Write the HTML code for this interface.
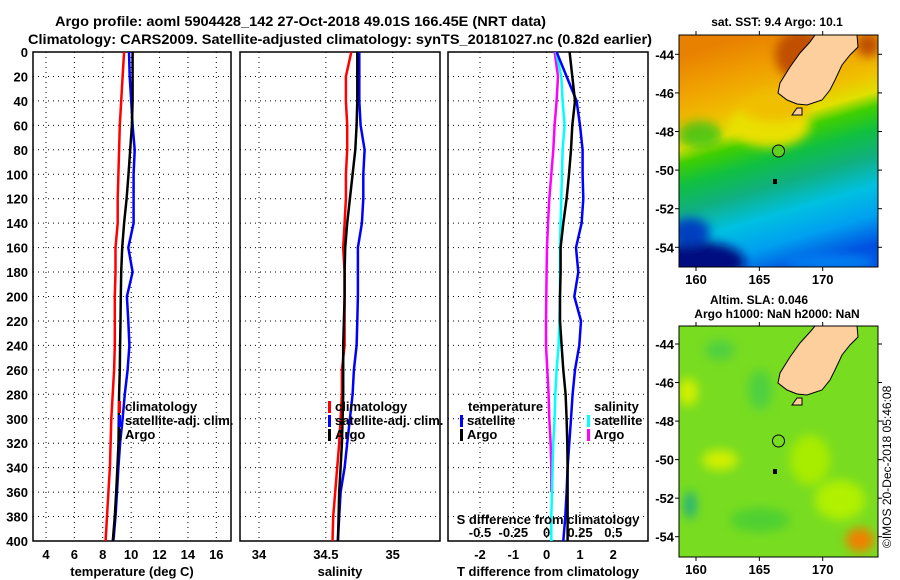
<!DOCTYPE html>
<html><head><meta charset="utf-8"><style>
body{margin:0;background:#fff;}
svg{display:block;font-family:"Liberation Sans",sans-serif;font-weight:bold;}
</style></head><body>
<svg id="chart" width="900" height="580" viewBox="0 0 900 580" xmlns="http://www.w3.org/2000/svg">
<defs>
<linearGradient id="sstGrad" x1="0.35" y1="0" x2="0.6" y2="1">
<stop offset="0" stop-color="#e88000"/><stop offset="0.15" stop-color="#f0a000"/>
<stop offset="0.3" stop-color="#f0c000"/><stop offset="0.38" stop-color="#e0e000"/>
<stop offset="0.44" stop-color="#40d000"/><stop offset="0.53" stop-color="#10c040"/>
<stop offset="0.64" stop-color="#10b080"/><stop offset="0.76" stop-color="#00c0e0"/>
<stop offset="0.88" stop-color="#00a0f0"/><stop offset="1" stop-color="#0050e0"/></linearGradient>
<clipPath id="clip1"><rect x="679" y="35" width="199" height="232"/></clipPath>
<clipPath id="clip2"><rect x="679" y="326" width="199" height="231"/></clipPath>
<filter id="blur"><feGaussianBlur stdDeviation="5"/></filter>
</defs>
<text x="55" y="26" font-size="14" textLength="491" lengthAdjust="spacingAndGlyphs">Argo profile: aoml 5904428_142 27-Oct-2018 49.01S 166.45E (NRT data)</text>
<text x="28" y="44" font-size="14" textLength="624" lengthAdjust="spacingAndGlyphs">Climatology: CARS2009. Satellite-adjusted climatology: synTS_20181027.nc (0.82d earlier)</text>
<g id="panels"></g>
<g clip-path="url(#clip1)">
<rect x="679" y="35" width="199" height="232" fill="url(#sstGrad)"/>
<g filter="url(#blur)">
<ellipse cx="770" cy="125" rx="40" ry="22" fill="#e8e000"/>
<ellipse cx="775" cy="108" rx="35" ry="14" fill="#f0c000"/>
<ellipse cx="700" cy="135" rx="22" ry="14" fill="#20c020" opacity="0.7"/>
<ellipse cx="700" cy="262" rx="45" ry="20" fill="#001080"/>
<ellipse cx="690" cy="232" rx="20" ry="14" fill="#0040c0"/>
<ellipse cx="800" cy="55" rx="25" ry="25" fill="#c05000"/>
<ellipse cx="868" cy="45" rx="12" ry="12" fill="#c05000"/>
<ellipse cx="830" cy="262" rx="45" ry="8" fill="#0080f0"/>
</g>
<polygon points="815,35 857,35 858,47 850,55 842,65 835,80 830,90 822,100 807,105 797,104 787,100 778,93 780,83 790,67 800,53 810,42" fill="#fccf9c" stroke="#000" stroke-width="1"/>
<polygon points="792,115 797,108 802,108 802,115" fill="#fccf9c" stroke="#000"/>
<circle cx="778.5" cy="151" r="6" fill="#60d020" stroke="#000"/>
<rect x="773" y="179" width="4" height="5" fill="#000"/>
</g>
<rect x="679" y="35" width="199" height="232" fill="none" stroke="#000"/>
<g clip-path="url(#clip2)">
<rect x="679" y="326" width="199" height="231" fill="#78dc20"/>
<g filter="url(#blur)">
<ellipse cx="720" cy="460" rx="18" ry="10" fill="#d0f000"/>
<ellipse cx="688" cy="392" rx="10" ry="14" fill="#d0f000"/>
<ellipse cx="760" cy="390" rx="12" ry="20" fill="#50d040"/>
<ellipse cx="720" cy="350" rx="15" ry="10" fill="#50d040"/>
<ellipse cx="690" cy="505" rx="6" ry="14" fill="#20b080"/>
<ellipse cx="860" cy="540" rx="14" ry="12" fill="#f08000"/>
<ellipse cx="840" cy="500" rx="25" ry="20" fill="#b0f000"/>
<ellipse cx="810" cy="460" rx="20" ry="25" fill="#a8ec00"/>
<ellipse cx="760" cy="520" rx="30" ry="12" fill="#50d030"/>
</g>
<polygon points="815,326 857,326 858,337 850,345 842,355 835,370 830,380 822,390 807,395 797,394 787,390 778,383 780,373 790,357 800,343 810,332" fill="#fccf9c" stroke="#000" stroke-width="1"/>
<polygon points="792,405 797,398 802,398 802,405" fill="#fccf9c" stroke="#000"/>
<circle cx="778.5" cy="441" r="6" fill="none" stroke="#000"/>
<rect x="773" y="469" width="4" height="5" fill="#000"/>
</g>
<rect x="679" y="326" width="199" height="231" fill="none" stroke="#000"/>
<text x="777" y="26" font-size="12" text-anchor="middle">sat. SST: 9.4 Argo: 10.1</text>
<text x="759" y="304" font-size="12" text-anchor="middle">Altim. SLA: 0.046</text>
<text x="777" y="318" font-size="12" text-anchor="middle">Argo h1000: NaN h2000: NaN</text>
<text transform="translate(891,548) rotate(-90)" font-size="12" font-weight="normal">©IMOS 20-Dec-2018 05:46:08</text>
<g id="mapaxes"></g>
</svg>
<script>
const depths = [0,20,40,60,80,100,120,140,160,180,200,220,240,260,280,300,320,340,360,380,400];
const tempClim = [9.5,9.4,9.3,9.2,9.15,9.1,9.05,9.05,8.9,8.9,8.85,8.85,8.85,8.8,8.7,8.6,8.55,8.5,8.4,8.3,8.2];
const tempSat = [9.85,9.9,10.0,10.1,10.25,10.17,10.17,10.17,9.8,10.1,9.7,9.8,9.88,9.75,9.55,9.4,9.22,9.1,9.0,8.9,8.75];
const tempArgo = [10.1,10.1,10.1,10.05,9.93,9.81,9.68,9.5,9.37,9.3,9.27,9.25,9.22,9.2,9.15,9.13,9.11,9.03,8.95,8.85,8.71];
const salClim = [34.69,34.65,34.65,34.66,34.66,34.65,34.65,34.64,34.63,34.64,34.64,34.64,34.64,34.62,34.62,34.61,34.6,34.585,34.57,34.555,34.55];
const salSat = [34.75,34.75,34.75,34.76,34.79,34.78,34.78,34.77,34.74,34.74,34.74,34.735,34.73,34.71,34.7,34.68,34.66,34.64,34.61,34.6,34.59];
const salArgo = [34.735,34.735,34.735,34.73,34.72,34.7,34.68,34.66,34.645,34.64,34.64,34.635,34.63,34.63,34.63,34.625,34.62,34.61,34.6,34.595,34.59];
const dTsat = [0.3,0.6,0.9,1.0,1.08,1.08,1.1,1.05,0.88,0.95,0.83,1.03,0.98,0.85,0.78,0.73,0.68,0.63,0.6,0.56,0.5];
const dTargo = [0.69,0.77,0.85,0.77,0.73,0.67,0.6,0.5,0.42,0.42,0.4,0.4,0.45,0.5,0.57,0.6,0.62,0.63,0.63,0.63,0.63];
const dSsat = [0.07,0.11,0.12,0.135,0.12,0.115,0.11,0.105,0.1,0.1,0.1,0.095,0.09,0.075,0.065,0.06,0.05,0.045,0.04,0.035,0.035];
const dSargo = [0.06,0.085,0.075,0.06,0.05,0.035,0.02,0.01,0.003,0,-0.003,-0.005,-0.005,0.005,0.015,0.02,0.03,0.035,0.035];
const depthTicks = [0,20,40,60,80,100,120,140,160,180,200,220,240,260,280,300,320,340,360,380,400];
const tempTicks = [4,6,8,10,12,14,16];
const salTicks = [34,34.5,35];
const dTTicks = [-2,-1,0,1,2];
const dSTicks = [-0.5,-0.25,0,0.25,0.5];
const latTicks = [-44,-46,-48,-50,-52,-54];
const lonTicks = [160,165,170];

const NS='http://www.w3.org/2000/svg';
const svg=document.getElementById('chart');
const gP=document.getElementById('panels');
const TOP=52,BOT=541;
const yD=d=>TOP+(BOT-TOP)*d/400;
function el(tag,attrs,parent){const e=document.createElementNS(NS,tag);for(const k in attrs)e.setAttribute(k,attrs[k]);(parent||gP).appendChild(e);return e;}
function txt(s,attrs,parent){const e=el('text',attrs,parent);e.textContent=s;return e;}
const panels=[
 {name:'temperature',x0:33,x1:231,v0:4,p0:46,v1:16,p1:216.3,ticks:tempTicks,title:'temperature (deg C)',fmt:v=>String(v)},
 {name:'salinity',x0:240,x1:440,v0:34,p0:259,v1:35,p1:392.7,ticks:salTicks,title:'salinity',fmt:v=>String(v)},
 {name:'difference',x0:448,x1:648,v0:-2,p0:480,v1:2,p1:613.3,ticks:dTTicks,title:'T difference from climatology',fmt:v=>String(v)}
];
panels.forEach(p=>{p.sx=v=>p.p0+(v-p.v0)*(p.p1-p.p0)/(p.v1-p.v0);});
panels.forEach((p,i)=>{
  const g=el('g',{});
  
  
  depthTicks.forEach(d=>{
    const l=el('line',{x1:p.x0,x2:p.x1,y1:yD(d),y2:yD(d),stroke:'#000','stroke-width':1,'stroke-dasharray':'1,4'},g);
    
    
  });
  p.ticks.forEach(v=>{
    const x=p.sx(v);
    const l=el('line',{x1:x,x2:x,y1:TOP,y2:BOT,stroke:'#000','stroke-width':1,'stroke-dasharray':'1,4'},g);
    
    
    const t=txt(p.fmt(v),{x:x,y:559,'font-size':13,'text-anchor':'middle'},g);
    
    
  });
  const r=el('rect',{x:p.x0,y:TOP,width:p.x1-p.x0,height:BOT-TOP,fill:'none',stroke:'#000','stroke-width':1.5},g);
  
  
  const at=txt(p.title,{x:(p.x0+p.x1)/2,y:576,'font-size':13,'text-anchor':'middle'},g);
  
  
});
depthTicks.forEach(d=>{
  const t=txt(String(d),{x:28,y:yD(d)+5,'font-size':13,'text-anchor':'end'});
  
  
});
function line(vals,sx,color,name){
  const pts=vals.map((v,i)=>sx(v).toFixed(1)+','+yD(depths[i]).toFixed(1)).join(' ');
  const l=el('polyline',{points:pts,fill:'none',stroke:color,'stroke-width':2.5});
  
  
}
const P=panels;
line(tempClim,P[0].sx,'#ff0000','temp-climatology-line');
line(tempSat,P[0].sx,'#0000ff','temp-satellite-line');
line(tempArgo,P[0].sx,'#000000','temp-argo-line');
line(salClim,P[1].sx,'#ff0000','sal-climatology-line');
line(salSat,P[1].sx,'#0000ff','sal-satellite-line');
line(salArgo,P[1].sx,'#000000','sal-argo-line');
const sxS=v=>P[2].sx(v*4);
line(dSargo,sxS,'#ff00ff','s-diff-argo-line');
line(dSsat,sxS,'#00ffff','s-diff-satellite-line');
line(dTsat,P[2].sx,'#0000ff','t-diff-satellite-line');
line(dTargo,P[2].sx,'#000000','t-diff-argo-line');
dSTicks.forEach(v=>{
  const t=txt(String(v),{x:sxS(v),y:541-4,'font-size':13,'text-anchor':'middle'});
  
  
});
const sT=txt('S difference from climatology',{x:548,y:524,'font-size':13,'text-anchor':'middle'});


function legend(x,y,color,label){
  const m=el('rect',{x:x,y:y-10,width:3,height:12,fill:color});
  
  
  const t=txt(label,{x:x+7,y:y,'font-size':13});
  
  
}
legend(118,411,'#ff0000','climatology');legend(118,425,'#0000ff','satellite-adj. clim.');legend(118,439,'#000000','Argo');
legend(328,411,'#ff0000','climatology');legend(328,425,'#0000ff','satellite-adj. clim.');legend(328,439,'#000000','Argo');
const lt=txt('temperature',{x:468,y:411,'font-size':13});


const ls=txt('salinity',{x:594,y:411,'font-size':13});


legend(460,425,'#0000ff','satellite');legend(460,439,'#000000','Argo');
legend(587,425,'#00ffff','satellite');legend(587,439,'#ff00ff','Argo');
const gM=document.getElementById('mapaxes');
const maps=[{y0:35,y1:267,latY:lat=>54.3+(-44-lat)*19.3,lab:280},{y0:326,y1:557,latY:lat=>344+(-44-lat)*19.27,lab:570}];
const lonX=lon=>696+(lon-160)*12.67;
maps.forEach(m=>{
  latTicks.forEach(lat=>{
    const y=m.latY(lat);
    el('line',{x1:675,x2:679,y1:y,y2:y,stroke:'#000'},gM);
    el('line',{x1:878,x2:882,y1:y,y2:y,stroke:'#000'},gM);
    const t=txt(String(lat),{x:674,y:y+5,'font-size':13,'text-anchor':'end'},gM);
    
    
  });
  lonTicks.forEach(lon=>{
    const x=lonX(lon);
    el('line',{x1:x,x2:x,y1:m.y0-4,y2:m.y0,stroke:'#000'},gM);
    el('line',{x1:x,x2:x,y1:m.y1,y2:m.y1+4,stroke:'#000'},gM);
    const t=txt(String(lon),{x:x,y:m.lab+4,'font-size':13,'text-anchor':'middle'},gM);
    
    
  });
});
</script>
</body></html>
